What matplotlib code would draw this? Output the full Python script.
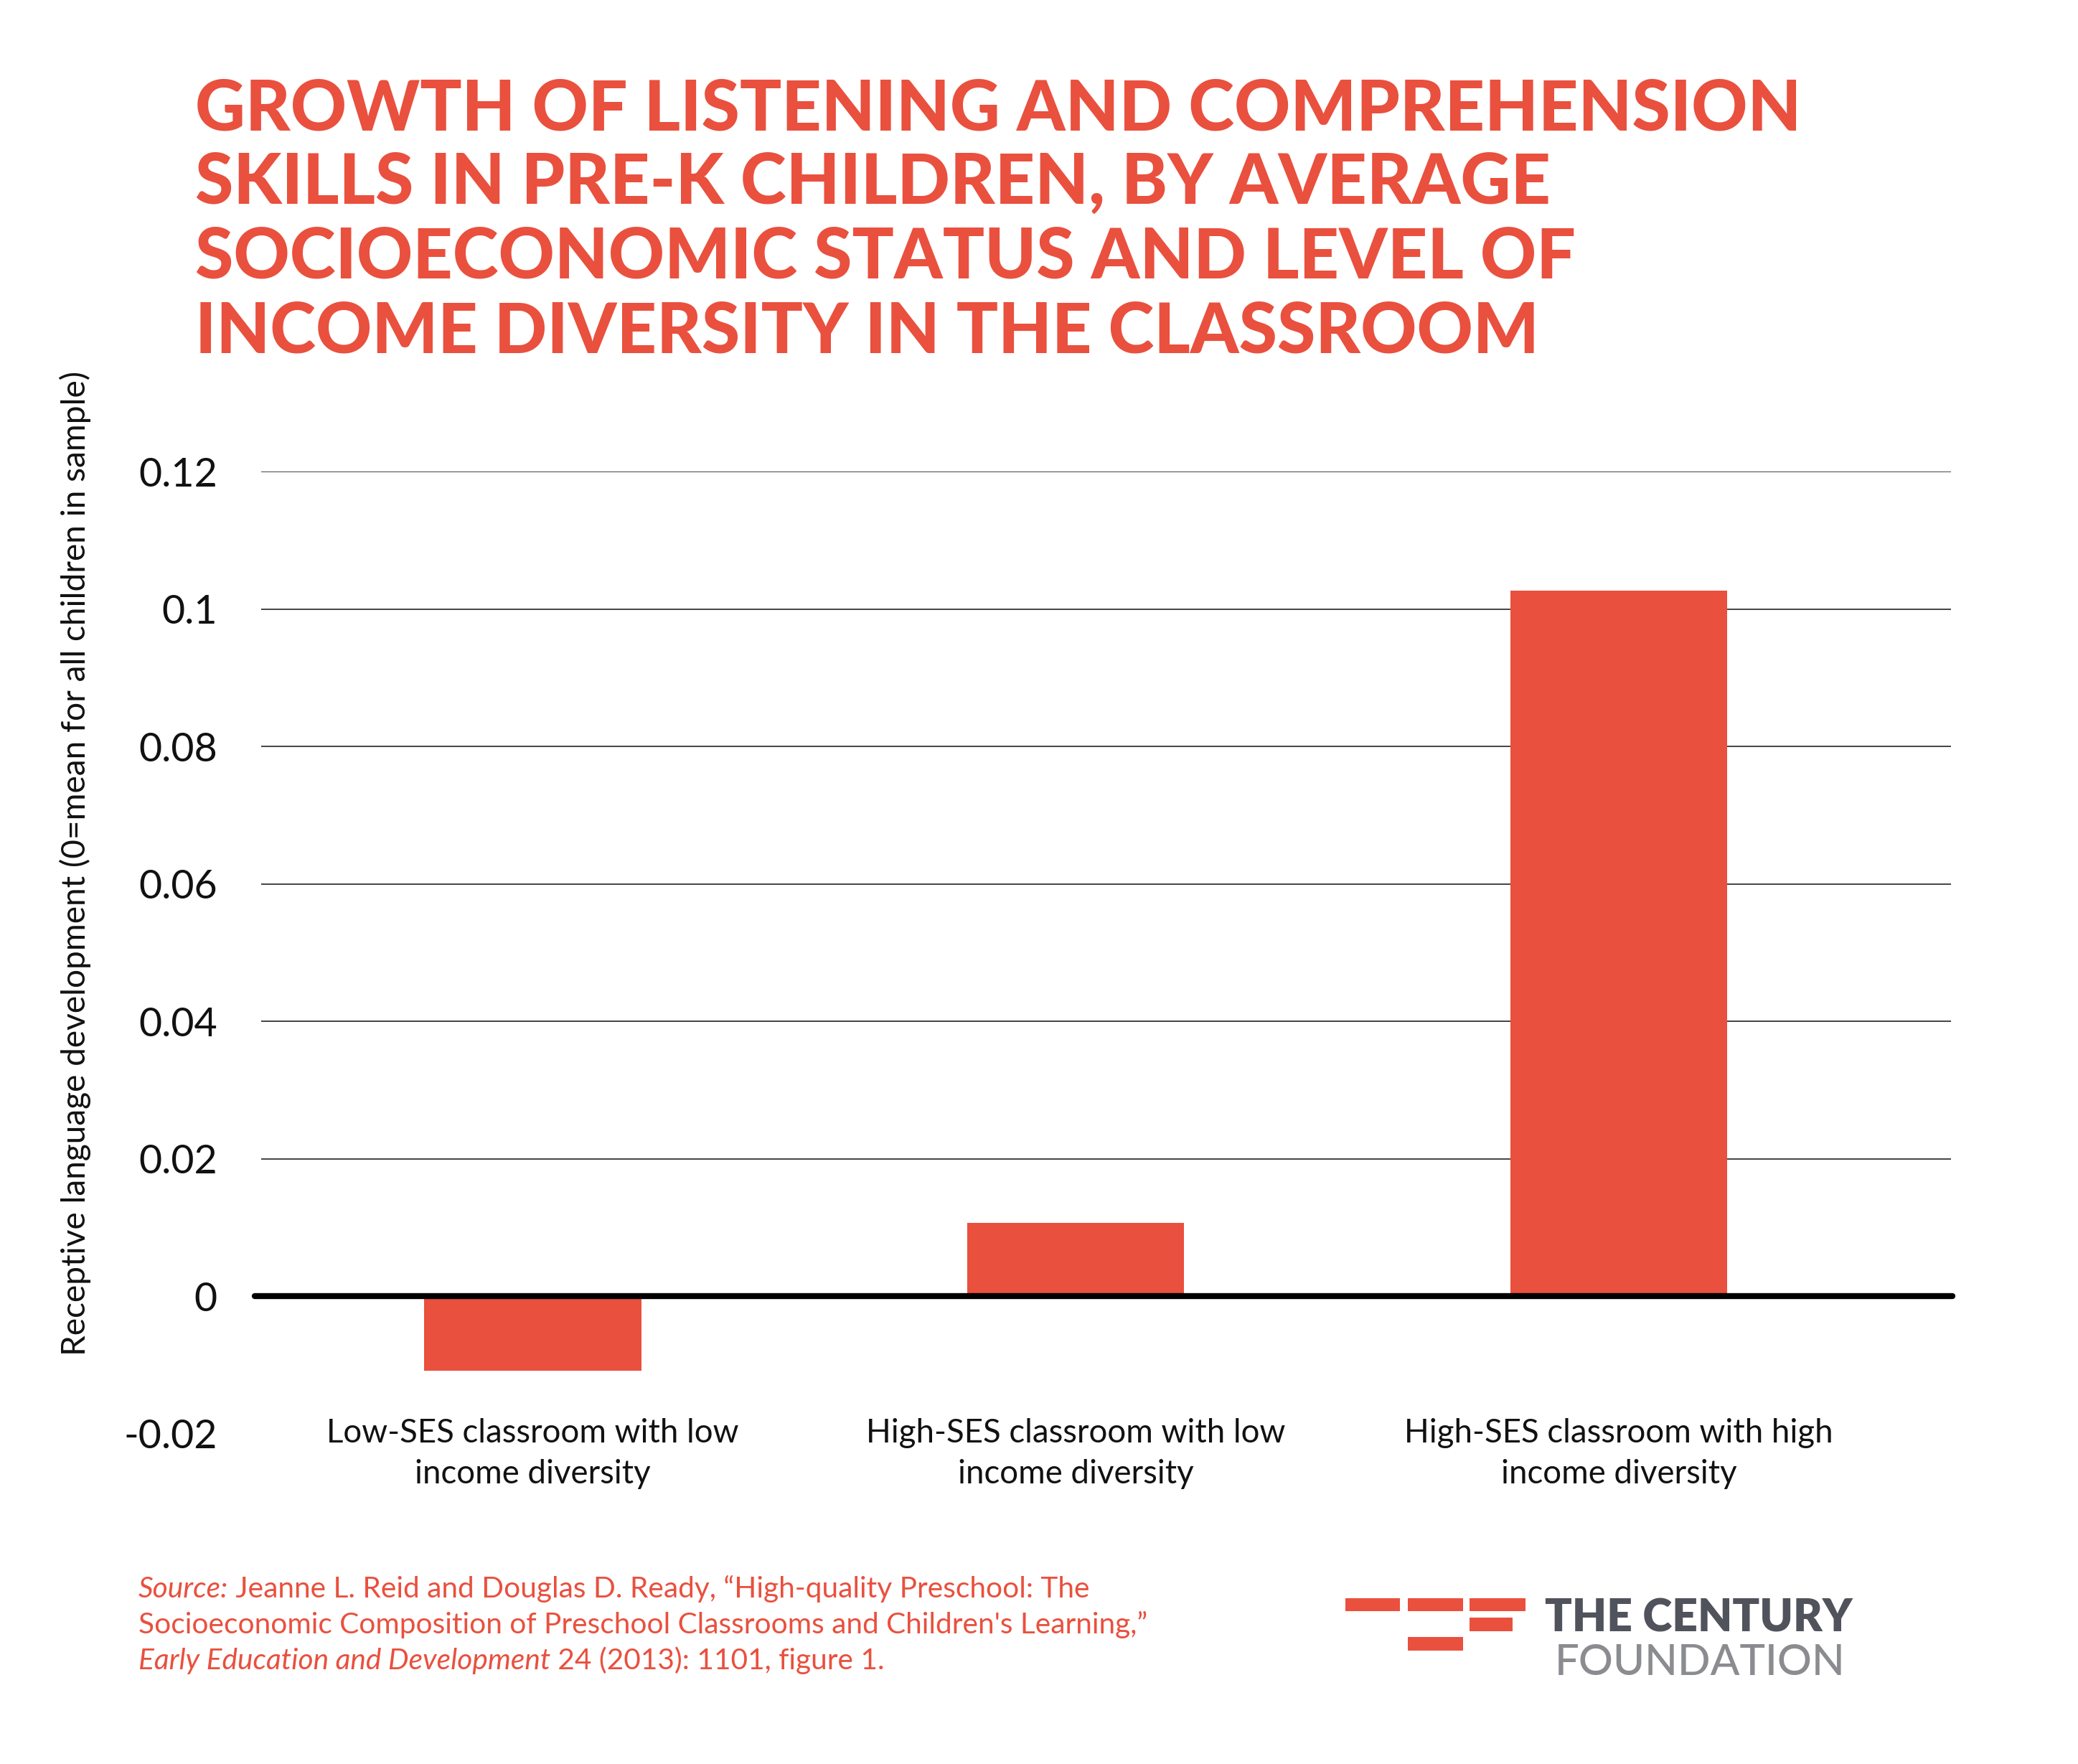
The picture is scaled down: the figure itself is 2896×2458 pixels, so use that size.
import matplotlib
matplotlib.use("Agg")
import matplotlib.pyplot as plt
from matplotlib.patches import Rectangle

# ---------------- data ----------------
categories = [
    "Low-SES classroom with low\nincome diversity",
    "High-SES classroom with low\nincome diversity",
    "High-SES classroom with high\nincome diversity",
]
values = [-0.0108, 0.0107, 0.1027]
yticks = [-0.02, 0.0, 0.02, 0.04, 0.06, 0.08, 0.10, 0.12]
ytick_labels = ["-0.02", "0", "0.02", "0.04", "0.06", "0.08", "0.1", "0.12"]
title_lines = [
    "GROWTH OF LISTENING AND COMPREHENSION",
    "SKILLS IN PRE-K CHILDREN, BY AVERAGE",
    "SOCIOECONOMIC STATUS AND LEVEL OF",
    "INCOME DIVERSITY IN THE CLASSROOM",
]
ylabel = "Receptive language development (0=mean for all children in sample)"
source_lines = [
    [("Source:", "italic"), (" Jeanne L. Reid and Douglas D. Ready, \u201cHigh-quality Preschool: The", "normal")],
    [("Socioeconomic Composition of Preschool Classrooms and Children's Learning,\u201d", "normal")],
    [("Early Education and Development", "italic"), (" 24 (2013): 1101, figure 1.", "normal")],
]

RED = "#E9503E"
DARK = "#50535B"
GREY = "#8B8C90"
FONT = "Lato"

W, H = 2896, 2458
DPI = 200
fig = plt.figure(figsize=(W / DPI, H / DPI), dpi=DPI)
fig.patch.set_facecolor("white")
renderer = fig.canvas.get_renderer()


def fx(px):
    return px / W


def fy(py):
    return 1 - py / H


def text_width(s, **kw):
    t = fig.text(0, 0, s + "|", **kw)
    w1 = t.get_window_extent(renderer).width
    t.set_text("|")
    w2 = t.get_window_extent(renderer).width
    t.remove()
    return w1 - w2


def fit_size(s, target_px, **kw):
    base = 20
    w = text_width(s, fontsize=base, **kw)
    return base * target_px / w


# ---------------- axes ----------------
ax_left, ax_right, ax_top, ax_bottom = 364, 2719, 657, 1998
ax = fig.add_axes([fx(ax_left), fy(ax_bottom), fx(ax_right - ax_left), (ax_bottom - ax_top) / H])

x = list(range(len(categories)))
ax.bar(x, values, width=0.40, color=RED, zorder=2)
ax.set_xlim(-0.50, 2.612)
ax.set_ylim(-0.02, 0.12)

xl_size = fit_size("Low-SES classroom with low", 575, family=FONT)
ax.set_yticks(yticks)
ax.set_yticklabels(ytick_labels, fontsize=20, family=FONT, color="#111111")
ax.set_xticks(x)
ax.set_xticklabels(categories, fontsize=xl_size, family=FONT, color="#111111", linespacing=1.45)
ax.tick_params(axis="y", length=0, pad=22)
ax.tick_params(axis="x", length=0, pad=-8)

for s in ax.spines.values():
    s.set_visible(False)

for yv in yticks:
    if yv > 0:
        ax.axhline(yv, color="#222222", lw=0.6, zorder=1)
ax.axhline(0, color="black", lw=3.0, zorder=3, solid_capstyle="round", clip_on=False,
           xmin=-0.004, xmax=1.001)

yl_size = fit_size(ylabel, 1370, family=FONT)
ax.set_ylabel(ylabel, fontsize=yl_size, family=FONT, color="#111111", va="center")
ax.yaxis.set_label_coords((105 - ax_left) / (ax_right - ax_left),
                          ((H - 1203) - (H - ax_bottom)) / (ax_bottom - ax_top))

# ---------------- title ----------------
tsize = fit_size(title_lines[0], 2235, family=FONT, weight="black")
baselines = [181, 284, 388, 491]
for line, b in zip(title_lines, baselines):
    fig.text(fx(272), fy(b), line, fontsize=tsize, family=FONT, weight="black",
             color=RED, va="baseline", ha="left")

# ---------------- source ----------------
ssize = fit_size(source_lines[1][0][0], 1406, family=FONT)
src_baselines = [2226, 2276, 2326]
for runs, b in zip(source_lines, src_baselines):
    xpos = 193
    for s, style in runs:
        fig.text(fx(xpos), fy(b), s, fontsize=ssize, family=FONT,
                 style=style, color=RED, va="baseline", ha="left")
        xpos += text_width(s, fontsize=ssize, family=FONT, style=style)

# ---------------- logo ----------------
rects = [
    (1875, 2227, 1951, 2245),
    (1962, 2227, 2039, 2245),
    (2048, 2227, 2126, 2245),
    (2048, 2254, 2108, 2273),
    (1962, 2281, 2039, 2300),
]
for x0, y0, x1, y1 in rects:
    fig.add_artist(Rectangle((fx(x0), fy(y1)), fx(x1 - x0), (y1 - y0) / H,
                             transform=fig.transFigure, color=RED, lw=0))

s1 = fit_size("THE CENTURY", 429, family=FONT, weight="heavy")
fig.text(fx(2153), fy(2273), "THE CENTURY", fontsize=s1, family=FONT, weight="heavy",
         color=DARK, va="baseline", ha="left")
s2 = fit_size("FOUNDATION", 405, family=FONT, weight="medium")
fig.text(fx(2167), fy(2334), "FOUNDATION", fontsize=s2, family=FONT, weight="medium",
         color=GREY, va="baseline", ha="left")

fig.savefig("out.png", dpi=DPI, facecolor="white")
